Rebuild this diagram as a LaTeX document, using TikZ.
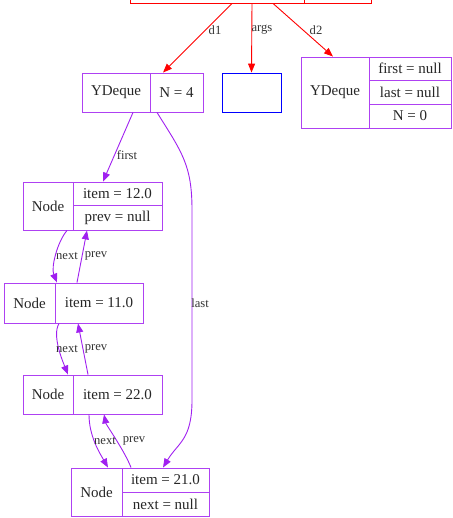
\documentclass[tikz,border=0pt]{standalone}
\usepackage{fontspec}
\setmainfont{Liberation Serif}
\usetikzlibrary{arrows.meta}
\definecolor{gvpurple}{HTML}{A020F0}
\definecolor{gvred}{HTML}{FF0000}
\definecolor{gvblue}{HTML}{0000FF}
\begin{document}
\begin{tikzpicture}[x=1pt,y=-1pt,
  fld/.style={draw, rectangle, inner sep=0pt, line width=0.9pt, font=\fontsize{15}{17}\selectfont, text=black!85},
  pf/.style={fld, draw=gvpurple!85},
  lab/.style={font=\fontsize{12.6}{14}\selectfont, text=black!80, inner sep=0pt},
  pe/.style={draw=gvpurple, line width=0.9pt, -{Triangle[length=9pt,width=7pt]}, gvpurple},
  re/.style={draw=gvred, line width=0.9pt, -{Triangle[length=9pt,width=7pt]}, gvred}]
\useasboundingbox (0,0) rectangle (452,518);
% top record (cut off)
\node[fld, draw=gvred, minimum width=174pt, minimum height=33pt] (ml) at (217,-13.5) {};
\node[fld, draw=gvred, minimum width=67pt, minimum height=33pt] (mr) at (337.5,-13.5) {};
% first YDeque
\node[pf, minimum width=68pt, minimum height=39pt] (yd1a) at (116,92.5) {YDeque};
\node[pf, minimum width=53pt, minimum height=39pt] (yd1b) at (176.5,92.5) {N = 4};
% args array
\node[fld, draw=gvblue, minimum width=59pt, minimum height=39pt] (arr) at (251.5,92.5) {};
% second YDeque
\node[pf, minimum width=68pt, minimum height=71pt] (yd2a) at (335,92.5) {YDeque};
\node[pf, minimum width=82pt, minimum height=23pt] (yd2b) at (410,68.5) {first = null};
\node[pf, minimum width=82pt, minimum height=24pt] (yd2c) at (410,92) {last = null};
\node[pf, minimum width=82pt, minimum height=24pt] (yd2d) at (410,116) {N = 0};
% Node 1
\node[pf, minimum width=50pt, minimum height=48pt] (n1a) at (48,206) {Node};
\node[pf, minimum width=89pt, minimum height=23pt] (n1b) at (117.5,193.5) {item = 12.0};
\node[pf, minimum width=89pt, minimum height=25pt] (n1c) at (117.5,217.5) {prev = null};
% Node 2
\node[pf, minimum width=51pt, minimum height=40pt] (n2a) at (29.5,303) {Node};
\node[pf, minimum width=88pt, minimum height=40pt] (n2b) at (99,303) {item = 11.0};
% Node 3
\node[pf, minimum width=50pt, minimum height=39pt] (n3a) at (48,394.5) {Node};
\node[pf, minimum width=89pt, minimum height=39pt] (n3b) at (117.5,394.5) {item = 22.0};
% Node 4
\node[pf, minimum width=51pt, minimum height=48pt] (n4a) at (96.5,492) {Node};
\node[pf, minimum width=87pt, minimum height=24pt] (n4b) at (165.5,480) {item = 21.0};
\node[pf, minimum width=87pt, minimum height=24pt] (n4c) at (165.5,504) {next = null};
% red edges
\draw[re] ([xshift=15pt]ml.south) -- ([xshift=-13.5pt]yd1b.north);
\draw[re] ([xshift=35pt]ml.south) -- (arr.north);
\draw[re] ([xshift=56pt]ml.south) -- ([xshift=-2pt]yd2a.north);
\node[lab] (ld1) at (215,30) {d1};
\node[lab] (largs) at (262,30) {args};
\node[lab] (ld2) at (316,30) {d2};
% first / last
\draw[pe] ([xshift=17pt]yd1a.south) -- ([xshift=-14.5pt]n1b.north);
\node[lab] (lfirst) at (127,155) {first};
\coordinate (l1) at (192,210);
\coordinate (l2) at (192,400);
\draw[pe] ([xshift=-19.5pt]yd1b.south) .. controls +(25,40) and +(0,-45) .. (l1) -- (l2) .. controls +(0,40) and +(15,-25) .. ([xshift=-2.5pt]n4b.north);
\node[lab] (llast) at (200,303) {last};
% node1 <-> node2
\draw[pe] ([xshift=19pt]n1a.south) .. controls +(-10,12) and +(-6,-15) .. ([xshift=-42pt]n2b.north);
\draw[pe] ([xshift=-22pt]n2b.north) -- ([xshift=-30.5pt]n1c.south);
\node[lab] (ln1) at (67,256) {next};
\node[lab] (lp1) at (96,256) {prev};
% node2 <-> node3
\draw[pe] ([xshift=-40pt]n2b.south) .. controls +(-7,12) and +(-6,-15) .. ([xshift=20pt]n3a.north);
\draw[pe] ([xshift=-29.5pt]n3b.north) -- ([xshift=-21pt]n2b.south);
\node[lab] (ln2) at (67,349) {next};
\node[lab] (lp2) at (96,349) {prev};
% node3 <-> node4
\draw[pe] ([xshift=-28.5pt]n3b.south) .. controls +(0,22) and +(-8,-14) .. ([xshift=11.5pt]n4a.north);
\draw[pe] ([xshift=-34.5pt]n4b.north) .. controls +(-6,-16) and +(2,10) .. ([xshift=-13.5pt]n3b.south);
\node[lab] (ln3) at (105,441) {next};
\node[lab] (lp3) at (134,441) {prev};
\end{tikzpicture}
\end{document}
